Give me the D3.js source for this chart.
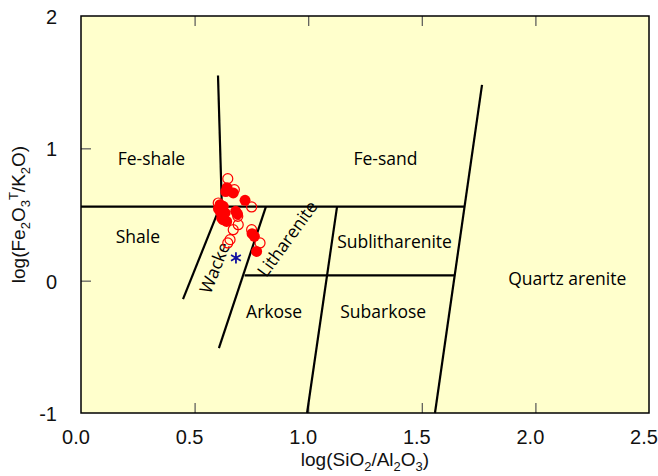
<!DOCTYPE html>
<meta charset="utf-8">
<body style="margin:0;background:#fff">
<div class="chart"></div>
<script src="https://d3js.org/d3.v7.min.js"></script>
<script>
// axis ticks
const xTicks = [0, 0.5, 1.0, 1.5, 2.0, 2.5];
const yTicks = [-1, 0, 1, 2];

// field boundaries of the diagram, [x1, y1, x2, y2] in data units
const boundaries = [
    [0.603, 1.55, 0.620, 0.56],
    [0.0, 0.56, 1.690, 0.56],
    [0.449, -0.14, 0.612, 0.56],
    [0.607, -0.51, 0.814, 0.56],
    [0.995, -1.0, 1.127, 0.56],
    [1.558, -1.0, 1.765, 1.48],
    [0.720, 0.04, 1.646, 0.04]
];

// field names
const fieldNames = ["Fe-shale", "Fe-sand", "Shale", "Sublitharenite", "Quartz arenite", "Arkose", "Subarkose", "Wacke", "Litharenite"];
const fieldX = [0.31, 1.34, 0.25, 1.38, 2.14, 0.85, 1.33, 0.585, 0.905];
const fieldY = [0.93, 0.93, 0.34, 0.30, 0.02, -0.23, -0.23, 0.10, 0.32];
const fieldAngle = [0, 0, 0, 0, 0, 0, 0, -68, -54];

// samples, solid symbols
const solidX = [0.637, 0.670, 0.643, 0.722, 0.612, 0.626, 0.605, 0.612, 0.634, 0.681, 0.689, 0.619, 0.641, 0.625, 0.763, 0.753, 0.773];
const solidY = [0.673, 0.663, 0.703, 0.607, 0.574, 0.562, 0.544, 0.524, 0.512, 0.524, 0.503, 0.474, 0.448, 0.461, 0.335, 0.355, 0.221];

// samples, open symbols
const openX = [0.646, 0.675, 0.751, 0.604, 0.690, 0.692, 0.670, 0.656, 0.646, 0.751, 0.788];
const openY = [0.771, 0.688, 0.557, 0.587, 0.486, 0.423, 0.385, 0.310, 0.285, 0.385, 0.285];

// reference sample (star)
const starX = [0.682];
const starY = [0.172];

const width = 658, height = 476;
const margin = {top: 16, right: 9, bottom: 63, left: 81};

const svg = d3.select(".chart").append("svg")
    .attr("width", width)
    .attr("height", height)
    .style("display", "block");

const x = d3.scaleLinear().domain([0, 2.5]).range([margin.left, width - margin.right]);
const y = d3.scaleLinear().domain([-1, 2]).range([height - margin.bottom, margin.top]);

svg.append("rect")
    .attr("x", x(0)).attr("y", y(2))
    .attr("width", x(2.5) - x(0)).attr("height", y(-1) - y(2))
    .attr("fill", "#ffffcc");

// inner ticks
const tickColor = "#555";
svg.append("g").attr("transform", `translate(0,${y(-1)})`)
    .call(d3.axisTop(x).tickValues(xTicks.slice(1, -1)).tickSize(10).tickFormat(""))
    .call(g => g.select(".domain").remove())
    .call(g => g.selectAll("line").attr("stroke", tickColor).attr("stroke-width", 1.2));
svg.append("g").attr("transform", `translate(0,${y(2)})`)
    .call(d3.axisBottom(x).tickValues(xTicks.slice(1, -1)).tickSize(10).tickFormat(""))
    .call(g => g.select(".domain").remove())
    .call(g => g.selectAll("line").attr("stroke", tickColor).attr("stroke-width", 1.2));
svg.append("g").attr("transform", `translate(${x(0)},0)`)
    .call(d3.axisRight(y).tickValues(yTicks.slice(1, -1)).tickSize(10).tickFormat(""))
    .call(g => g.select(".domain").remove())
    .call(g => g.selectAll("line").attr("stroke", tickColor).attr("stroke-width", 1.2));

// tick labels
svg.append("g")
    .attr("font-family", "Liberation Sans, Arial, sans-serif")
    .attr("font-size", 20)
    .attr("fill", "#111")
    .selectAll("text").data(xTicks).join("text")
    .attr("x", d => x(d) - 5)
    .attr("y", y(-1) + 31)
    .attr("text-anchor", "middle")
    .text(d3.format(".1f"));
svg.append("g")
    .attr("font-family", "Liberation Sans, Arial, sans-serif")
    .attr("font-size", 20)
    .attr("fill", "#111")
    .selectAll("text").data(yTicks).join("text")
    .attr("x", x(0) - 24)
    .attr("y", d => y(d) + 8)
    .attr("text-anchor", "end")
    .text(d => d);

// boundaries
svg.append("g")
    .attr("stroke", "#000")
    .attr("stroke-width", 2.2)
    .selectAll("line").data(boundaries).join("line")
    .attr("x1", d => x(d[0])).attr("y1", d => y(d[1]))
    .attr("x2", d => x(d[2])).attr("y2", d => y(d[3]));

// frame
svg.append("rect")
    .attr("x", x(0)).attr("y", y(2))
    .attr("width", x(2.5) - x(0)).attr("height", y(-1) - y(2))
    .attr("fill", "none").attr("stroke", "#000").attr("stroke-width", 1.5);

// field names
svg.append("g")
    .attr("font-family", "Open Sans, Noto Sans, sans-serif")
    .attr("font-size", 17.5)
    .attr("fill", "#000")
    .selectAll("text").data(fieldNames).join("text")
    .attr("text-anchor", "middle")
    .attr("dominant-baseline", "central")
    .attr("transform", (d, i) => `translate(${x(fieldX[i])},${y(fieldY[i])}) rotate(${fieldAngle[i]})`)
    .text(d => d);

// samples
svg.append("g").selectAll("circle").data(openX).join("circle")
    .attr("cx", d => x(d)).attr("cy", (d, i) => y(openY[i]))
    .attr("r", 5)
    .attr("fill", "none").attr("stroke", "#ff0000").attr("stroke-width", 1.2);
svg.append("g").selectAll("circle").data(solidX).join("circle")
    .attr("cx", d => x(d)).attr("cy", (d, i) => y(solidY[i]))
    .attr("r", 5.5)
    .attr("fill", "#ff0000");
svg.append("g").selectAll("path").data(starX).join("path")
    .attr("transform", (d, i) => `translate(${x(d)},${y(starY[i])})`)
    .attr("d", d3.symbol(d3.symbolAsterisk, 90))
    .attr("fill", "none").attr("stroke", "#1010a0").attr("stroke-width", 1.8);

// axis titles
const xt = svg.append("text")
    .attr("font-family", "Liberation Sans, Arial, sans-serif")
    .attr("font-size", 19)
    .attr("fill", "#111")
    .attr("text-anchor", "middle")
    .attr("x", (x(0) + x(2.5)) / 2)
    .attr("y", height - 10);
xt.append("tspan").text("log(SiO");
xt.append("tspan").attr("font-size", 13).attr("dy", 5).text("2");
xt.append("tspan").attr("dy", -5).text("/Al");
xt.append("tspan").attr("font-size", 13).attr("dy", 5).text("2");
xt.append("tspan").attr("dy", -5).text("O");
xt.append("tspan").attr("font-size", 13).attr("dy", 5).text("3");
xt.append("tspan").attr("dy", -5).text(")");

const yt = svg.append("text")
    .attr("font-family", "Liberation Sans, Arial, sans-serif")
    .attr("font-size", 19)
    .attr("fill", "#111")
    .attr("text-anchor", "middle")
    .attr("transform", `translate(25,${(y(-1) + y(2)) / 2}) rotate(-90)`);
yt.append("tspan").text("log(Fe");
yt.append("tspan").attr("font-size", 13).attr("dy", 5).text("2");
yt.append("tspan").attr("dy", -5).text("O");
yt.append("tspan").attr("font-size", 13).attr("dy", 5).text("3");
yt.append("tspan").attr("font-size", 13).attr("dy", -12).text("T");
yt.append("tspan").attr("dy", 7).text("/K");
yt.append("tspan").attr("font-size", 13).attr("dy", 5).text("2");
yt.append("tspan").attr("dy", -5).text("O)");
</script>
